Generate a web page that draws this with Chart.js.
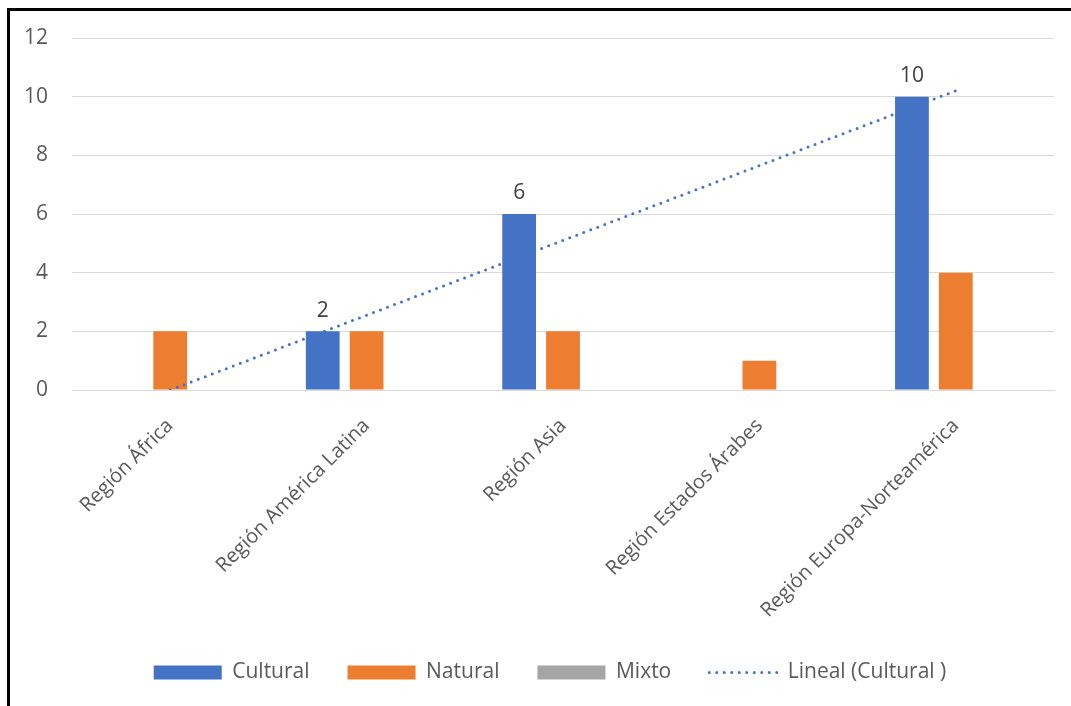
<!DOCTYPE html>
<html>
<head>
<meta charset="utf-8">
<script src="https://cdn.jsdelivr.net/npm/chart.js@4/dist/chart.umd.min.js"></script>
<style>
  html, body { margin: 0; padding: 0; background: #fff; overflow: hidden; }
  #frame { position: absolute; left: 7px; top: 8px; width: 1200px; height: 800px;
           border-top: 3px solid #000; border-left: 3px solid #000; }
  #wrap { position: absolute; left: 0; top: 0; width: 1071px; height: 706px; }
</style>
</head>
<body>
<div id="frame"></div>
<div id="wrap"><canvas id="regionesChart"></canvas></div>
<script>
// datos
const categorias = ['Región África', 'Región América Latina', 'Región Asia', 'Región Estados Árabes', 'Región Europa-Norteamérica']
const cultural = [0, 2, 6, 0, 10]
const natural = [2, 2, 2, 1, 4]
const mixto = [0, 0, 0, 0, 0]
// tendencia lineal: solo extremos, el resto se une recto
const tendencia = [0, null, null, null, 10.2]
const ticksY = [0, 2, 4, 6, 8, 10, 12]

Chart.defaults.font.family = "'Open Sans', 'Liberation Sans', sans-serif"
Chart.defaults.color = '#595959'

// etiquetas encima de las barras de Cultural (solo valores distintos de cero)
const etiquetas = {
    id: 'etiquetas',
    afterLayout(chart) {
        // la leyenda del original va centrada algo mas a la derecha
        chart.legend.left = 46
    },
    afterDatasetsDraw(chart) {
        const ctx = chart.ctx
        const meta = chart.getDatasetMeta(0)
        ctx.save()
        ctx.font = "21px 'Open Sans', 'Liberation Sans', sans-serif"
        ctx.fillStyle = '#404040'
        ctx.textAlign = 'center'
        ctx.textBaseline = 'bottom'
        meta.data.forEach((bar, i) => {
            if (cultural[i] > 0) ctx.fillText(cultural[i], bar.x, bar.y - 10)
        })
        ctx.restore()
    }
}

const data = {
    labels: categorias,
    datasets: [
        { label: 'Cultural', data: cultural, backgroundColor: '#4472C4', order: 2 },
        { label: 'Natural', data: natural, backgroundColor: '#ED7D31', order: 2 },
        { label: 'Mixto', data: mixto, backgroundColor: '#A5A5A5', order: 2 },
        {
            type: 'line', label: 'Lineal (Cultural )', data: tendencia,
            borderColor: '#4472C4', borderWidth: 3, borderDash: [0, 7.5],
            borderCapStyle: 'round', pointRadius: 0, spanGaps: true, order: 1
        }
    ]
}

const options = {
    responsive: false,
    animation: false,
    layout: { padding: { left: 0, right: 17, top: 38, bottom: 13 } },
    datasets: { bar: { categoryPercentage: 0.67, barPercentage: 0.77 } },
    scales: {
        x: {
            grid: { display: false },
            border: { color: '#d9d9d9' },
            ticks: { minRotation: 45, maxRotation: 45, padding: 16, font: { size: 20 }, color: '#595959' },
            afterFit(scale) { scale.height = 234 }
        },
        y: {
            min: 0, max: 12,
            afterBuildTicks(scale) { scale.ticks = ticksY.map(v => ({ value: v })) },
            grid: { color: '#d9d9d9', drawTicks: false },
            border: { display: false },
            ticks: { font: { size: 21 }, color: '#595959', padding: 24 },
            afterFit(scale) { scale.width = 72 }
        }
    },
    plugins: {
        tooltip: { enabled: false },
        legend: {
            position: 'bottom',
            labels: {
                usePointStyle: true,
                pointStyleWidth: 68,
                boxHeight: 14,
                padding: 38,
                color: '#595959',
                font: { size: 21 },
                sort: (a, b) => a.datasetIndex - b.datasetIndex,
                generateLabels(chart) {
                    const items = Chart.defaults.plugins.legend.labels.generateLabels(chart)
                    items.forEach(it => {
                        if (it.datasetIndex === 3) {
                            it.pointStyle = 'line'
                            it.lineWidth = 3
                            it.lineDash = [0, 7.5]
                            it.lineCap = 'round'
                            it.strokeStyle = '#4472C4'
                        } else {
                            it.pointStyle = 'rect'
                            it.lineWidth = 0
                        }
                    })
                    return items
                }
            }
        }
    }
}

const canvas = document.getElementById('regionesChart')
canvas.width = 1071
canvas.height = 706
new Chart(canvas, { type: 'bar', data, options, plugins: [etiquetas] })
</script>
</body>
</html>
